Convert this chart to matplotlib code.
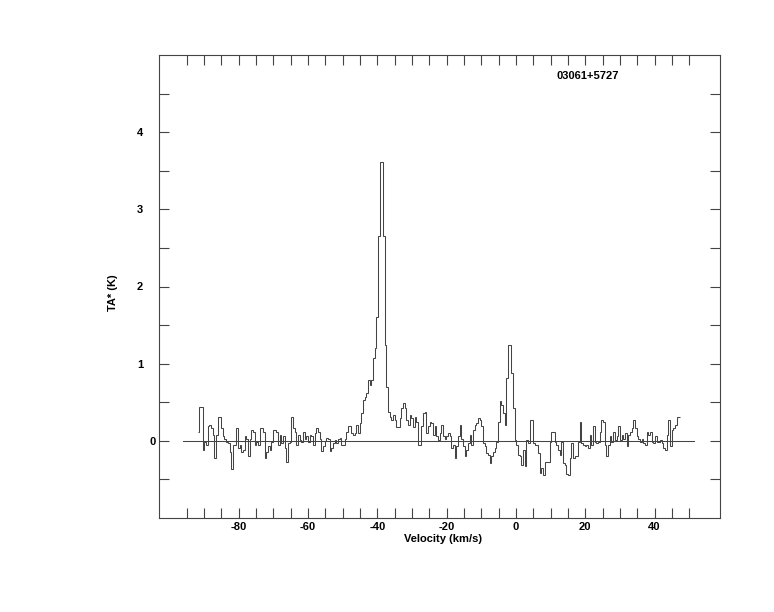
import numpy as np
import matplotlib
matplotlib.use("Agg")
import matplotlib.pyplot as plt
import matplotlib.transforms as mtransforms

# spectrum, TA* in K, one value per channel
ta_wing_west = [0.12, 0.44, 0.44, -0.12, -0.01, -0.05, 0.19, 0.21, 0.16, 0.08,
                -0.22, 0.08, 0.31, 0.31, 0.16, 0.06, 0.03, -0.01, -0.03, -0.14,
                -0.37, -0.05, -0.05, 0.16, -0.09, -0.05, -0.14, -0.12, 0.06, 0.03,
                -0.20, 0.03, 0.14, 0.12, -0.05, -0.01, -0.05, 0.16, 0.17, 0.12,
                -0.22, -0.14, -0.07, -0.12, -0.01, 0.14, 0.14, 0.12, -0.05, 0.08,
                -0.03, 0.06, -0.09, -0.27, -0.03, -0.01, 0.31, 0.16, 0.12, -0.05,
                0.08, 0.01, -0.01, 0.11, 0.03, 0.06, -0.01, 0.08, 0.06, -0.05]
ta_rise = [0.10, 0.17, 0.12, 0.02, -0.13, -0.07, 0.00, 0.04, 0.02, -0.13,
           -0.09, -0.03, 0.01, -0.03, 0.02, 0.04, -0.05, -0.05, 0.02, 0.12,
           0.19, 0.19, 0.10, 0.08, 0.10, 0.21, 0.10, 0.23, 0.36]
ta_main_peak = [0.53, 0.57, 0.62, 0.79, 0.72, 0.79, 1.07, 1.20, 1.60, 2.66,
                3.61, 3.61, 2.66, 1.24, 0.70, 0.38, 0.31, 0.27, 0.33, 0.27,
                0.18, 0.18, 0.29, 0.42, 0.49, 0.42, 0.27, 0.21, 0.33, 0.29,
                0.18, 0.31, 0.25]
ta_shoulder = [-0.05, -0.05, 0.19, 0.36, 0.38, 0.10, 0.19, 0.25, 0.23, 0.08]
ta_second_peak = [0.19, 0.06, 0.01, 0.10, 0.21, 0.06, 0.03, 0.06, 0.10, 0.06,
                  -0.09, -0.05, -0.22, -0.07, 0.06, 0.21, 0.03, -0.07, -0.20, -0.12,
                  -0.03, 0.08, -0.05, 0.14, 0.21, 0.23, 0.29, 0.27, 0.19, -0.03,
                  -0.07, -0.16, -0.18, -0.29, -0.20, -0.14, -0.09, -0.01, 0.25, 0.51,
                  0.47, 0.36, 0.21, 0.81, 1.24, 1.24, 0.88, 0.42, 0.01, -0.05,
                  -0.18, -0.20, -0.31, -0.12, -0.33, 0.01, -0.03, 0.27, 0.27, -0.03,
                  -0.05, -0.05, -0.16, -0.42, -0.35, -0.44, -0.27, -0.27, -0.27, -0.01,
                  0.12, 0.12]
ta_wing_east = [-0.01, -0.05, -0.12, -0.18, -0.01, -0.29, -0.31, -0.43, -0.44, -0.22,
                -0.03, -0.22, -0.20, -0.20, -0.01, 0.25, -0.03, -0.05, -0.07, -0.05,
                -0.09, 0.08, -0.05, 0.19, -0.01, -0.03, -0.01, 0.12, 0.27, 0.25,
                -0.05, -0.20, -0.05, 0.06, -0.01, 0.12, 0.01, 0.06, 0.19, 0.01,
                0.08, 0.03, 0.10, -0.07, 0.08, 0.12, 0.16, 0.27, 0.16, 0.06,
                0.03, -0.01, 0.03, -0.03, -0.05, 0.12, 0.08, 0.12, -0.01, -0.03,
                0.06, -0.01, -0.01, 0.01, -0.03, -0.09, -0.12, 0.08, 0.27, -0.07,
                0.14, 0.16, 0.21, 0.31, 0.31]

v_start = -91.8   # km/s, left edge of first channel
dv = 0.4814       # km/s per channel
source = "03061+5727"

ta = np.array(ta_wing_west + ta_rise + ta_main_peak + ta_shoulder
              + ta_second_peak + ta_wing_east)
edges = v_start + dv * np.arange(len(ta) + 1)

fig = plt.figure(figsize=(7.74, 6.12), dpi=100)
ax = fig.add_axes([159 / 774, 1 - 518 / 612, 561 / 774, 463 / 612])

col = "#444444"
ax.stairs(ta, edges, baseline=None, color=col, lw=0.75)
ax.plot([-96.2, 51.4], [0, 0], color=col, lw=0.75)

ax.set_xlim(-103.0, 58.9)
ax.set_ylim(-1.0, 5.0)

ax.set_xticks(np.arange(-80, 41, 20))
ax.set_xticks(np.arange(-95, 51, 5), minor=True)
ax.set_yticks(np.arange(0, 5, 1))
ax.set_yticks(np.arange(-0.5, 4.6, 0.5), minor=True)
ax.set_xticklabels(["-80", "-60", "-40", "-20", "0", "20", "40"])
ax.set_yticklabels(["0", "1", "2", "3", "4"])

for which in ("major", "minor"):
    ax.tick_params(which=which, direction="in", length=7, width=0.8, color=col,
                   top=True, right=True)
ax.tick_params(axis="x", labelsize=8, pad=3)
ax.tick_params(axis="y", labelsize=8, pad=11.5)
for lab in ax.get_xticklabels() + ax.get_yticklabels():
    lab.set_fontweight("bold")
    lab.set_family("Liberation Sans")
# the "0" label sits right next to the frame in the original
zero_lab = ax.get_yticklabels()[0]
zero_lab.set_transform(zero_lab.get_transform()
                       + mtransforms.ScaledTranslation(13 / 100, 0, fig.dpi_scale_trans))
for s in ax.spines.values():
    s.set_color(col)
    s.set_linewidth(0.8)

font = dict(family="Liberation Sans", weight="bold", size=8)
fig.text(443 / 774, 1 - 538.5 / 612, "Velocity (km/s)", ha="center", va="center", **font)
fig.text(113 / 774, 1 - 293 / 612, "TA* (K)", ha="center", va="center",
         rotation=90, **font)
fig.text(588 / 774, 1 - 76 / 612, source, ha="center", va="center", **font)

fig.savefig("out.png", dpi=100)
